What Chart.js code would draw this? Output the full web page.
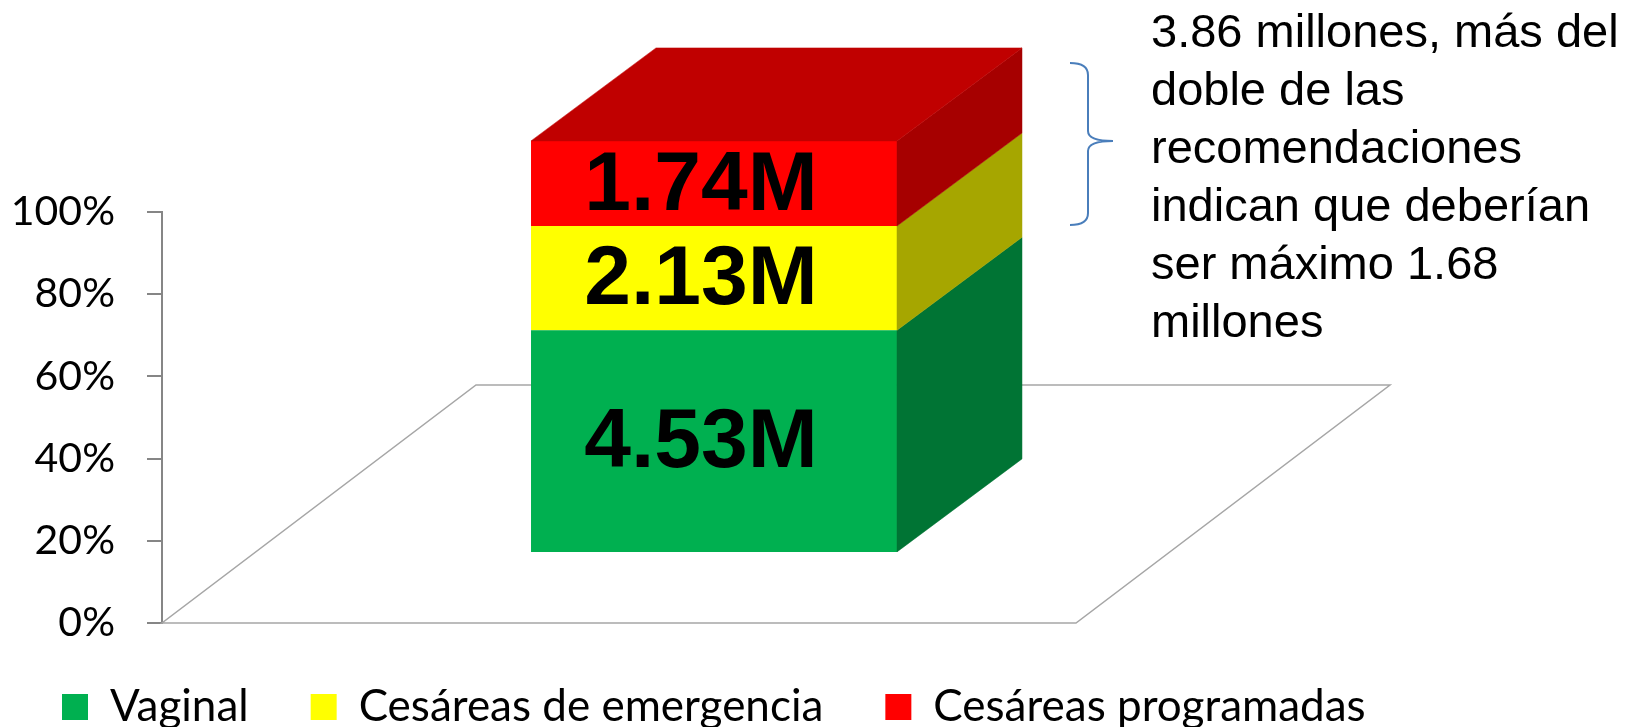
<!DOCTYPE html>
<html>
<head>
<meta charset="utf-8">
<script src="https://cdn.jsdelivr.net/npm/chart.js@4.4.0/dist/chart.umd.min.js"></script>
<style>
  html, body { margin: 0; padding: 0; background: #fff; }
  #wrap { width: 1641px; height: 727px; }
</style>
</head>
<body>
<div id="wrap"><canvas id="partosChart"></canvas></div>
<script>
// data, in millions of births
const categories = ['Partos'];
const seriesNames = ['Vaginal', 'Cesáreas de emergencia', 'Cesáreas programadas'];
const vaginal = [4.53];
const emergencia = [2.13];
const programadas = [1.74];
const yTicks = [0, 20, 40, 60, 80, 100];
const noteLines = [
    '3.86 millones, más del',
    'doble de las',
    'recomendaciones',
    'indican que deberían',
    'ser máximo 1.68',
    'millones'
];

const frontColors = ['#00b050', '#ffff00', '#ff0000'];
const sideColors = ['#007434', '#a6a600', '#a60000'];
const topColor = '#c00000';

// 3d geometry
const BAR_DX = 125, BAR_DY = 93;
const FLOOR_W = 914, FLOOR_DX = 314, FLOOR_DY = 238;
const BAR_LIFT = 17.3; // how far the bar sits above the floor front edge, in %

const series = [vaginal, emergencia, programadas];
const totals = categories.map((c, j) => series.reduce((s, arr) => s + arr[j], 0));

const depthPlugin = {
    id: 'depth',
    beforeDatasetsDraw(chart) {
        const {ctx, chartArea, scales} = chart;
        const y0 = scales.y.getPixelForValue(0);
        const x0 = chartArea.left;
        ctx.save();
        ctx.strokeStyle = '#a6a6a6';
        ctx.lineWidth = 1.5;
        ctx.beginPath();
        ctx.moveTo(x0, y0);
        ctx.lineTo(x0 + FLOOR_W, y0);
        ctx.lineTo(x0 + FLOOR_W + FLOOR_DX, y0 - FLOOR_DY);
        ctx.lineTo(x0 + FLOOR_DX, y0 - FLOOR_DY);
        ctx.closePath();
        ctx.stroke();
        ctx.restore();
    },
    afterDatasetsDraw(chart) {
        const {ctx} = chart;
        const last = chart.data.datasets.length - 1;
        ctx.save();
        chart.data.datasets.forEach((ds, i) => {
            chart.getDatasetMeta(i).data.forEach((bar, j) => {
                const {x, y, base, width} = bar.getProps(['x', 'y', 'base', 'width'], true);
                const left = x - width / 2, right = x + width / 2;
                // side face
                ctx.fillStyle = sideColors[i];
                ctx.strokeStyle = sideColors[i];
                ctx.lineWidth = 0.5;
                ctx.beginPath();
                ctx.moveTo(right, y);
                ctx.lineTo(right + BAR_DX, y - BAR_DY);
                ctx.lineTo(right + BAR_DX, base - BAR_DY);
                ctx.lineTo(right, base);
                ctx.closePath();
                ctx.fill();
                ctx.stroke();
                // top face
                if (i === last) {
                    ctx.fillStyle = topColor;
                    ctx.strokeStyle = topColor;
                    ctx.beginPath();
                    ctx.moveTo(left, y);
                    ctx.lineTo(left + BAR_DX, y - BAR_DY);
                    ctx.lineTo(right + BAR_DX, y - BAR_DY);
                    ctx.lineTo(right, y);
                    ctx.closePath();
                    ctx.fill();
                    ctx.stroke();
                }
                // value label
                ctx.fillStyle = '#000';
                ctx.font = 'bold 84px "Liberation Sans", Arial, sans-serif';
                ctx.textAlign = 'center';
                ctx.textBaseline = 'middle';
                ctx.fillText(series[i][j].toFixed(2) + 'M', x - 13, (y + base) / 2 + 3);
            });
        });
        ctx.restore();
    },
    afterDraw(chart) {
        const {ctx} = chart;
        ctx.save();
        // brace
        ctx.strokeStyle = '#4a7ebb';
        ctx.lineWidth = 2;
        ctx.beginPath();
        ctx.moveTo(1070, 63);
        ctx.quadraticCurveTo(1088, 63, 1088, 75);
        ctx.lineTo(1088, 131);
        ctx.quadraticCurveTo(1088, 141, 1113, 141);
        ctx.quadraticCurveTo(1088, 141, 1088, 151);
        ctx.lineTo(1088, 213);
        ctx.quadraticCurveTo(1088, 225, 1070, 225);
        ctx.stroke();
        // note
        ctx.fillStyle = '#000';
        ctx.font = '47px "Liberation Sans", Arial, sans-serif';
        ctx.textAlign = 'left';
        ctx.textBaseline = 'middle';
        noteLines.forEach((t, k) => ctx.fillText(t, 1151, 34 + k * 58));
        ctx.restore();
    }
};

const ctx = document.getElementById('partosChart').getContext('2d');
new Chart(ctx, {
    type: 'bar',
    data: {
        labels: categories,
        datasets: seriesNames.map((name, i) => ({
            label: name,
            data: series[i].map((v, j) => v / totals[j] * 100),
            backgroundColor: frontColors[i],
            borderWidth: 0,
            yAxisID: 'y2',
            clip: false,
            barPercentage: 0.3315,
            categoryPercentage: 1
        }))
    },
    options: {
        responsive: true,
        maintainAspectRatio: false,
        animation: false,
        layout: {
            padding: { top: 212, left: 0, right: 0, bottom: 0 }
        },
        scales: {
            x: {
                stacked: true,
                display: false
            },
            y: {
                min: 0,
                max: 100,
                afterBuildTicks: scale => { scale.ticks = yTicks.map(v => ({ value: v })); },
                afterFit: scale => { scale.width = 162; },
                ticks: {
                    padding: 32,
                    color: '#000',
                    font: { family: 'Lato', size: 41 },
                    callback: v => v + '%'
                },
                grid: {
                    drawOnChartArea: false,
                    tickLength: 15,
                    color: '#868686',
                    lineWidth: 2
                },
                border: { color: '#868686', width: 2 }
            },
            y2: {
                stacked: true,
                position: 'right',
                min: -BAR_LIFT,
                max: 100 - BAR_LIFT,
                afterFit: scale => { scale.width = 375; },
                ticks: { display: false },
                grid: { display: false },
                border: { display: false }
            }
        },
        plugins: {
            tooltip: { enabled: false },
            legend: {
                position: 'bottom',
                align: 'start',
                maxHeight: 104,
                labels: {
                    boxWidth: 26,
                    boxHeight: 26,
                    padding: 62,
                    color: '#000',
                    font: { family: 'Lato', size: 44 }
                }
            }
        }
    },
    plugins: [depthPlugin]
});
</script>
</body>
</html>
